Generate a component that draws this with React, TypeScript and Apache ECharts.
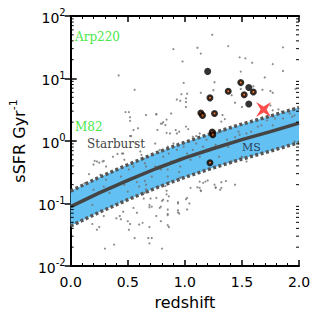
import React, { useEffect, useRef } from 'react';
import * as echarts from 'echarts';

// Main-sequence band
const msZ = [0, 0.25, 0.5, 0.75, 1.0, 1.25, 1.5, 1.75, 2.0];
const msMid = [0.089, 0.148, 0.234, 0.363, 0.537, 0.759, 1.05, 1.41, 1.93];
const msUpper = [0.158, 0.263, 0.417, 0.646, 0.955, 1.35, 1.86, 2.51, 3.43];
const msLower = [0.0436, 0.0725, 0.115, 0.178, 0.263, 0.372, 0.515, 0.69, 0.945];

// Field galaxies: [redshift, sSFR]
const fieldGalaxies = [
  [1.24, 50], [0.9, 29.5], [1.11, 31], [1.14, 25], [0.98, 18.7], [1.26, 8.7], [0.99, 8.5], [1.25, 6.5],
  [1.14, 5.9], [1.02, 5.7], [0.97, 5.6], [1.01, 4.8], [0.93, 4.6],
  [1.38, 33], [1.86, 31.5], [1.48, 21.8], [1.53, 21], [1.59, 17.9], [1.77, 17], [1.49, 12.9], [1.86, 13.2],
  [1.7, 10.4], [1.6, 7.5], [1.68, 6.6], [1.49, 6.8], [1.75, 6.3], [1.77, 5.9], [1.97, 6.8], [1.41, 5.4],
  [0.42, 11.2], [0.56, 6.6], [0.48, 2.9], [0.51, 2.9], [0.52, 2.1], [0.66, 2.6], [0.75, 2.66], [0.59, 1.6],
  [0.55, 1.5], [0.53, 1.2], [0.79, 1.9], [0.52, 2.4],
  [0.75, 2.7], [0.81, 2.0], [0.8, 1.9], [0.83, 1.8], [0.84, 2.2], [0.88, 2.75], [1.01, 3.5], [1.01, 4.2],
  [0.96, 4.4], [0.76, 1.5], [0.84, 1.35], [0.87, 1.32], [0.93, 1.32], [0.95, 1.41], [0.92, 1.5], [1.01, 1.7],
  [1.03, 1.55], [1.07, 1.17], [1.1, 1.2], [1.13, 1.32], [1.33, 2.6], [1.35, 2.24], [1.32, 2.04], [1.29, 1.35],
  [1.34, 1.45],
  [1.44, 4.1], [1.5, 3.5], [1.75, 3.7], [1.77, 3.1], [1.82, 3.2], [1.85, 2.95], [1.92, 2.75], [1.96, 3.3],
  [0.12, 0.21], [0.2, 0.166], [0.26, 0.29], [0.29, 0.186], [0.31, 0.24], [0.34, 0.148], [0.4, 0.35], [0.44, 0.27],
  [0.47, 0.2], [0.5, 0.155], [0.51, 0.35], [0.54, 0.44], [0.58, 0.22], [0.6, 0.186], [0.64, 0.31], [0.65, 0.148],
  [0.71, 0.27], [0.74, 0.39], [0.77, 0.186], [0.79, 0.35],
  [0.16, 0.295], [0.21, 0.48], [0.25, 0.45], [0.29, 0.48], [0.31, 0.39], [0.37, 0.56], [0.46, 0.63], [0.47, 0.5],
  [0.52, 1.2], [0.57, 0.91], [0.45, 0.63], [0.41, 0.62], [0.28, 0.47], [0.23, 0.47], [0.2, 0.42], [0.61, 0.68],
  [0.62, 0.6], [0.64, 0.52], [0.65, 0.44], [0.66, 0.39], [0.55, 0.39],
  [0.19, 0.095], [0.23, 0.038], [0.29, 0.063], [0.3, 0.019], [0.38, 0.022], [0.43, 0.063], [0.46, 0.074],
  [0.5, 0.052], [0.51, 0.038], [0.55, 0.085], [0.58, 0.071], [0.63, 0.049], [0.68, 0.028], [0.71, 0.089],
  [0.75, 0.063], [0.79, 0.052], [0.19, 0.047], [0.25, 0.042], [0.44, 0.056], [0.4, 0.058], [0.56, 0.028],
  [0.52, 0.047], [0.6, 0.046],
  [0.69, 0.042], [0.71, 0.028], [0.69, 0.023], [0.8, 0.019], [0.85, 0.045], [0.86, 0.042], [0.85, 0.065],
  [0.95, 0.069], [0.94, 0.078], [1.02, 0.08], [1.01, 0.117], [1.02, 0.123], [1.04, 0.1], [0.94, 0.1],
  [0.79, 0.089], [0.78, 0.085], [0.81, 0.115], [0.8, 0.11], [0.86, 0.13], [0.7, 0.12], [0.75, 0.123],
  [0.69, 0.095], [0.69, 0.087], [1.05, 0.178], [1.13, 0.178], [1.14, 0.158], [1.27, 0.178], [1.31, 0.166],
  [1.2, 0.234], [1.26, 0.2], [1.27, 0.182], [1.32, 0.219], [1.36, 0.229], [1.32, 0.178], [1.44, 0.2],
  [1.16, 0.214], [1.18, 0.224], [1.13, 0.224], [1.14, 0.162], [1.11, 0.182], [0.94, 0.072], [0.85, 0.08],
  [0.85, 0.068], [0.94, 0.105],
  [0.74, 0.91], [0.78, 0.72], [0.81, 0.56], [0.85, 0.81], [0.86, 0.63], [0.88, 0.47], [0.9, 0.91], [0.93, 0.72],
  [0.95, 0.52], [0.96, 0.39], [0.99, 0.81], [1.02, 0.63], [1.05, 0.5], [1.07, 0.72], [1.1, 0.91], [1.13, 0.56],
  [1.16, 0.81], [1.19, 1.05], [1.21, 0.72], [1.24, 1.17], [1.27, 0.87], [1.3, 0.56], [0.85, 0.35], [0.85, 0.27],
  [0.86, 0.22], [0.95, 0.32], [0.96, 0.26],
  [1.47, 1.41], [1.48, 1.26], [1.44, 1.15], [1.54, 1.32], [1.58, 1.41], [1.64, 1.7], [1.67, 1.78], [1.72, 2.14],
  [1.79, 2.29], [1.77, 1.78], [1.86, 2.29], [1.94, 2.45], [1.96, 2.57], [1.96, 0.98], [1.5, 0.56], [1.54, 0.47],
  [1.41, 0.47], [1.38, 0.81], [1.37, 1.05],
  [0.84, 0.16], [0.83, 0.19], [0.84, 0.14], [0.85, 0.11], [0.66, 0.2], [0.65, 0.23], [0.66, 0.17], [0.64, 0.12],
];

// Highlighted objects
const orangeGalaxies = [
  [1.49, 8.6], [1.6, 6.1], [1.52, 5.5], [1.38, 6.25], [1.22, 4.9], [1.14, 2.8], [1.155, 2.57],
  [1.26, 2.76], [1.24, 1.39], [1.245, 1.26], [1.22, 0.45],
];
const blackGalaxies = [[1.2, 13.0], [1.56, 7.2], [1.56, 3.9]];
const starObject = [[1.69, 3.2]];

const yDecades = [0.01, 0.1, 1, 10];
const yMinorSteps = [2, 3, 4, 5, 6, 7, 8, 9];

const SANS = '"DejaVu Sans", sans-serif';
const SERIF = '"DejaVu Serif", serif';

export default function App() {
  const ref = useRef<HTMLDivElement>(null);
  useEffect(() => {
    if (!ref.current) return;
    const chart = echarts.init(ref.current, null, { renderer: 'svg' });
    const minorVals: number[][] = [];
    yDecades.forEach((d) => yMinorSteps.forEach((k) => minorVals.push([0, d * k])));

    const axisLine = { show: true, lineStyle: { color: '#000', width: 2 } };
    const xCommon = {
      type: 'value', min: 0, max: 2, interval: 0.5,
      axisLine,
      axisTick: { show: true, inside: true, length: 6, lineStyle: { color: '#000', width: 1.5 } },
      minorTick: { show: true, splitNumber: 5, length: 3, lineStyle: { color: '#000', width: 1 } },
      splitLine: { show: false },
    };
    const yCommon = {
      type: 'log', logBase: 10, min: 0.01, max: 100,
      axisLine,
      axisTick: { show: true, inside: true, length: 6, lineStyle: { color: '#000', width: 1.5 } },
      splitLine: { show: false },
      minorSplitLine: { show: false },
    };

    const option: any = {
      animation: false,
      backgroundColor: '#fff',
      grid: { left: 63, right: 16, top: 16, bottom: 48 },
      xAxis: [
        {
          ...xCommon,
          position: 'bottom',
          axisLabel: {
            formatter: (v: number) => v.toFixed(1), fontSize: 14, color: '#000', fontFamily: SANS, margin: 9,
          },
          name: 'redshift', nameLocation: 'middle', nameGap: 28,
          nameTextStyle: { fontSize: 16, color: '#000', fontFamily: SANS },
        },
        { ...xCommon, position: 'top', axisLabel: { show: false } },
      ],
      yAxis: [
        {
          ...yCommon,
          position: 'left',
          axisLabel: {
            margin: 5,
            formatter: (v: number) => `{b|10}{s|${Math.round(Math.log10(v))}}`,
            rich: {
              b: { fontSize: 14, color: '#000', fontFamily: SANS, verticalAlign: 'bottom' },
              s: { fontSize: 10, color: '#000', fontFamily: SANS, verticalAlign: 'bottom', padding: [0, 0, 7, 0] },
            },
          },
          name: '{a|sSFR Gyr}{s|-1}', nameLocation: 'middle', nameRotate: 90, nameGap: 40,
          nameTextStyle: {
            rich: {
              a: { fontSize: 16, color: '#000', fontFamily: SANS, verticalAlign: 'bottom' },
              s: { fontSize: 11, color: '#000', fontFamily: SANS, verticalAlign: 'bottom', padding: [0, 0, 8, 0] },
            },
          },
        },
        { ...yCommon, position: 'right', axisLabel: { show: false } },
      ],
      series: [
        {
          type: 'custom', silent: true, z: 1, clip: true,
          data: [[0, 1]],
          renderItem: (_p: any, api: any) => {
            const pts: number[][] = [];
            msZ.forEach((z, i) => pts.push(api.coord([z, msUpper[i]])));
            for (let i = msZ.length - 1; i >= 0; i--) pts.push(api.coord([msZ[i], msLower[i]]));
            return { type: 'polygon', shape: { points: pts }, style: { fill: '#63c0f2' } };
          },
        },
        {
          type: 'scatter', silent: true, z: 2, symbol: 'circle', symbolSize: 2.2,
          itemStyle: { color: '#707070' },
          data: fieldGalaxies,
        },
        {
          type: 'line', silent: true, z: 3, showSymbol: false, symbol: 'none',
          lineStyle: { color: '#555', width: 3.5, type: [3, 2.5], cap: 'butt' },
          data: msZ.map((z, i) => [z, msUpper[i]]),
        },
        {
          type: 'line', silent: true, z: 3, showSymbol: false, symbol: 'none',
          lineStyle: { color: '#555', width: 3.5, type: [3, 2.5], cap: 'butt' },
          data: msZ.map((z, i) => [z, msLower[i]]),
        },
        {
          type: 'line', silent: true, z: 3, showSymbol: false, symbol: 'none',
          lineStyle: { color: '#444', width: 3.5 },
          data: msZ.map((z, i) => [z, msMid[i]]),
        },
        {
          type: 'scatter', silent: true, z: 4, symbol: 'circle', symbolSize: 4.5,
          itemStyle: { color: '#f06010', borderColor: '#000', borderWidth: 2.5 },
          data: orangeGalaxies,
        },
        {
          type: 'scatter', silent: true, z: 4, symbol: 'circle', symbolSize: 7,
          itemStyle: { color: '#000' },
          data: blackGalaxies,
        },
        {
          type: 'scatter', silent: true, z: 5,
          symbol: 'path://M-10,-10 L0,-4 L10,-10 L4,0 L10,10 L0,4 L-10,10 L-4,0 Z',
          symbolSize: 15,
          itemStyle: { color: '#ff2020' },
          data: starObject,
        },
        {
          type: 'custom', silent: true, z: 6, clip: false,
          data: minorVals,
          renderItem: (_p: any, api: any) => {
            const v = api.value(1);
            const pl = api.coord([0, v]);
            const pr = api.coord([2, v]);
            return {
              type: 'group',
              children: [
                { type: 'line', shape: { x1: pl[0], y1: pl[1], x2: pl[0] + 3, y2: pl[1] }, style: { stroke: '#000', lineWidth: 1 } },
                { type: 'line', shape: { x1: pr[0], y1: pr[1], x2: pr[0] - 3, y2: pr[1] }, style: { stroke: '#000', lineWidth: 1 } },
              ],
            };
          },
        },
      ],
      graphic: [
        { type: 'text', x: 75, y: 37, style: { text: 'Arp220', fill: '#4ae84a', font: `12px ${SERIF}`, verticalAlign: 'middle', align: 'left' } },
        { type: 'text', x: 75, y: 127, style: { text: 'M82', fill: '#4ae84a', font: `12px ${SERIF}`, verticalAlign: 'middle', align: 'left' } },
        { type: 'text', x: 87, y: 144, style: { text: 'Starburst', fill: '#444', font: `12px ${SERIF}`, verticalAlign: 'middle', align: 'left' } },
        { type: 'text', x: 242, y: 147, z: 10, style: { text: 'MS', fill: '#2a3a55', font: `11px ${SERIF}`, verticalAlign: 'middle', align: 'left' } },
      ],
    };
    chart.setOption(option);
    return () => chart.dispose();
  }, []);
  return (
    <div
      ref={ref}
      style={{ position: 'fixed', left: 0, top: 0, width: 315, height: 315, background: '#fff' }}
    />
  );
}
